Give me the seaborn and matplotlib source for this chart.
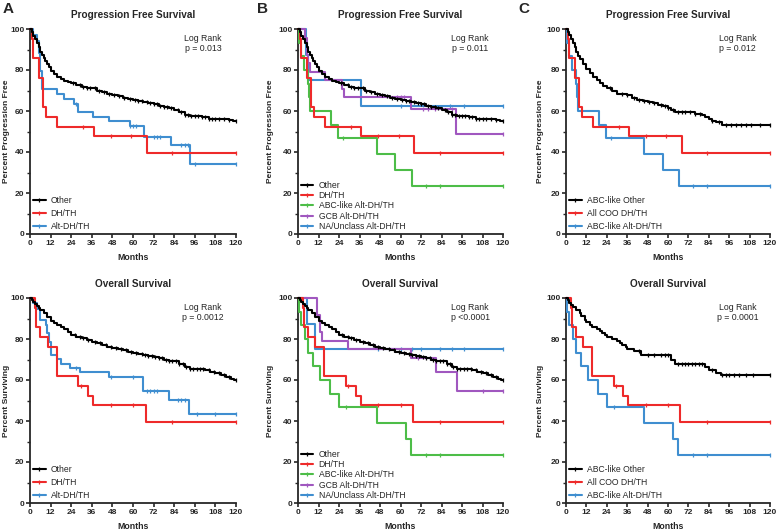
import numpy as np
import pandas as pd
import matplotlib
matplotlib.use("Agg")
import matplotlib.pyplot as plt
from matplotlib.lines import Line2D
from matplotlib.ticker import MultipleLocator
import seaborn as sns

sns.set_theme(style="ticks")
plt.rcParams['font.family'] = ['Liberation Sans', 'DejaVu Sans']

# ---------------- colours ----------------
C_BLACK = "#000000"
C_RED = "#ee2a2a"
C_BLUE = "#3f8ed0"
C_GREEN = "#4dbd48"
C_PURPLE = "#a057bf"

# ---------------- data: PFS ----------------
pfs_other_t = [0, 1, 2, 3, 4, 5, 6, 7, 8, 9, 10, 11, 12, 14, 16, 18, 20, 22, 24, 27, 30, 33, 36, 39, 42, 45,
               48, 51, 54, 57, 60, 63, 66, 69, 72, 75, 78, 81, 84, 87, 90, 93, 96, 100, 104, 108, 116, 118]
pfs_other_s = [100, 98.5, 96.5, 95, 93, 91, 89, 87.5, 86, 84.5, 83, 81.5, 79.5, 78, 76.5, 75.5, 74.5, 74, 73.5,
               72.5, 71.5, 71, 71, 70, 69.5, 68.5, 68, 67.5, 66.5, 66, 65.5, 65, 64.5, 64, 63.5, 62.5, 62, 61.5,
               60.5, 59.5, 58, 57.5, 57.5, 57, 56, 56, 55.5, 55]
pfs_other_c = [25, 29, 31, 33, 35, 38, 40, 43, 46, 49, 52, 55, 58, 61, 63, 65, 68, 70, 72, 74, 76, 78, 80, 82,
               86, 88, 90, 92, 94, 96, 98, 100, 102, 104, 106, 108, 110, 113, 116, 120]

pfs_dh_t = [0, 1.2, 2, 5.5, 7.5, 9.5, 16, 37, 68]
pfs_dh_s = [100, 95.2, 85.7, 76.2, 61.9, 57.1, 52.4, 47.6, 39.3]
pfs_dh_c = [31, 47, 59, 83, 120]

pfs_alt_t = [0, 2, 4, 5, 6, 7, 16, 20, 25.7, 27.8, 36.6, 46, 58, 66.5, 82, 93]
pfs_alt_s = [100, 97.1, 94.1, 88.2, 79.4, 70.6, 68.3, 66.0, 63.5, 59.5, 57.0, 55.0, 52.8, 47.2, 43.3, 34.3]
pfs_alt_c = [27, 58.5, 60, 61.5, 72, 74, 76, 88, 90, 92, 96, 120]

pfs_abcalt_t = [0, 0.5, 2, 3.7, 5.9, 6.4, 6.9, 19.6, 23.5, 46, 57, 66.5]
pfs_abcalt_s = [100, 93.3, 86.7, 80, 73.3, 66.7, 60, 53.3, 46.7, 38.9, 31.1, 23.3]
pfs_abcalt_c = [26.5, 75, 83, 120]

pfs_gcb_t = [0, 4, 5, 6, 7, 16, 25.5, 27, 66, 92.5]
pfs_gcb_s = [100, 95.8, 87.5, 83.3, 79.2, 75, 70.8, 66.7, 61.1, 48.9]
pfs_gcb_c = [58, 60, 62, 73, 76, 80, 90, 120]

pfs_na_t = [0, 4.5, 6, 37]
pfs_na_s = [100, 87.5, 75, 62.5]
pfs_na_c = [60, 89, 97, 120]

pfs_abcother_t = [0, 1, 2, 3, 4, 5, 6, 7, 8, 10, 12, 14, 16, 18, 20, 22, 24, 27, 30, 36, 39, 42, 45, 48, 51,
                  54, 57, 60, 62, 64, 72, 76, 80, 82, 84, 86, 88, 92]
pfs_abcother_s = [100, 98.5, 97, 95, 93, 91, 89, 87, 85.5, 83, 80.5, 78.5, 76.5, 75, 73.5, 72, 71, 70, 68.5,
                  68, 66.5, 65.5, 65, 64.5, 64, 63, 62.5, 61.5, 60.5, 59.5, 59.5, 58.5, 58, 57, 56, 55, 54.5, 53.3]
pfs_abcother_c = [26, 33, 36, 40, 43, 46, 49, 52, 56, 58, 60, 63, 66, 68, 70, 73, 76, 79, 86, 90, 94, 97, 100,
                  103, 106, 109, 114, 120]

# ---------------- data: OS ----------------
os_other_t = [0, 1, 2, 3, 4, 5, 6, 8, 10, 12, 14, 16, 18, 20, 22, 24, 27, 30, 33, 36, 39, 42, 45, 48, 51, 54,
              57, 60, 63, 66, 69, 72, 75, 78, 81, 84, 87, 90, 93, 96, 99, 102, 105, 108, 111, 114, 117, 119]
os_other_s = [100, 99, 98, 97, 96, 95, 94, 92.5, 90.5, 89, 88, 87, 86, 85, 83.5, 82, 81, 80.5, 79.5, 78.5, 78,
              77, 76, 75.5, 75, 74.5, 73.5, 73, 72.5, 72, 71.5, 71, 70.5, 70, 69.5, 69.5, 68, 66.5, 65.5, 65.5,
              65.5, 65, 64, 63.5, 62.5, 61.5, 60.5, 60]
os_other_c = [26, 29, 31, 34, 38, 41, 44, 47, 50, 53, 56, 59, 62, 65, 67, 69, 71, 73, 75, 77, 79, 81, 83, 85,
              87, 89, 91, 93, 95, 97, 99, 101, 104, 107, 110, 113, 116, 120]

os_dh_t = [0, 2.9, 3.7, 5.9, 10.2, 15.5, 28.2, 33.7, 36.6, 67.3]
os_dh_s = [100, 95.2, 85.7, 81.0, 76.2, 61.9, 57.1, 52.4, 47.6, 39.3]
os_dh_c = [29.5, 47, 60, 83, 120]

os_alt_t = [0, 2, 4.3, 5.7, 9.2, 9.8, 11, 12, 15.5, 18.2, 23.5, 29, 46, 66, 81, 92.8]
os_alt_s = [100, 97.4, 94.7, 89.5, 86.8, 83.0, 78.5, 72.4, 70.3, 68.0, 65.9, 63.8, 61.5, 54.5, 50.4, 43.2]
os_alt_c = [27, 47, 60, 68, 70, 72, 74, 86, 88, 90, 97, 108, 120]

os_abcalt_t = [0, 0.7, 1.5, 4, 6, 9, 13, 19, 24, 46, 63, 66]
os_abcalt_s = [100, 93.3, 86.7, 80, 73.3, 66.7, 60, 53.3, 46.7, 38.9, 31.1, 23.3]
os_abcalt_c = [28, 75, 83, 120]

os_gcb_t = [0, 11.3, 12.9, 14.3, 29.5, 66, 80.8, 93]
os_gcb_s = [100, 91.7, 83.3, 79.2, 75, 70.5, 63.9, 54.8]
os_gcb_c = [70, 108, 120]

os_na_t = [0, 5, 10]
os_na_s = [100, 87.5, 75]
os_na_c = [47, 60, 67, 72, 83, 90, 97, 120]

os_abcother_t = [0, 1, 2, 3, 4, 6, 8, 9, 11, 12, 14, 15, 18, 20, 21, 23, 24, 27, 30, 32, 33, 35, 36, 40, 44,
                 62, 64, 82, 84, 88, 91]
os_abcother_s = [100, 99, 97.5, 96.5, 95.5, 94, 92.5, 91, 89.5, 88.5, 87, 86, 85, 84, 83, 82, 81, 80, 79, 78,
                 77, 76, 75, 74, 72, 70, 68, 66.5, 65, 63.5, 62.5]
os_abcother_c = [43, 48, 52, 56, 58, 60, 66, 68, 70, 72, 74, 76, 78, 80, 86, 92, 94, 96, 99, 102, 106, 110, 120]

# ---------------- panel definitions ----------------
panel_letters = ["A", "B", "C"]
pfs_pvalues = ["p = 0.013", "p = 0.011", "p = 0.012"]
os_pvalues = ["p = 0.0012", "p <0.0001", "p = 0.0001"]
x_ticks = list(range(0, 121, 12))
y_ticks = list(range(0, 101, 20))

labels_A = ["Other", "DH/TH", "Alt-DH/TH"]
labels_B = ["Other", "DH/TH", "ABC-like Alt-DH/TH", "GCB Alt-DH/TH", "NA/Unclass Alt-DH/TH"]
labels_C = ["ABC-like Other", "All COO DH/TH", "ABC-like Alt-DH/TH"]

panels_pfs = [
    [(pfs_other_t, pfs_other_s, pfs_other_c, C_BLACK), (pfs_dh_t, pfs_dh_s, pfs_dh_c, C_RED),
     (pfs_alt_t, pfs_alt_s, pfs_alt_c, C_BLUE)],
    [(pfs_other_t, pfs_other_s, pfs_other_c, C_BLACK), (pfs_dh_t, pfs_dh_s, pfs_dh_c, C_RED),
     (pfs_abcalt_t, pfs_abcalt_s, pfs_abcalt_c, C_GREEN), (pfs_gcb_t, pfs_gcb_s, pfs_gcb_c, C_PURPLE),
     (pfs_na_t, pfs_na_s, pfs_na_c, C_BLUE)],
    [(pfs_abcother_t, pfs_abcother_s, pfs_abcother_c, C_BLACK), (pfs_dh_t, pfs_dh_s, pfs_dh_c, C_RED),
     (pfs_abcalt_t, pfs_abcalt_s, pfs_abcalt_c, C_BLUE)],
]
panels_os = [
    [(os_other_t, os_other_s, os_other_c, C_BLACK), (os_dh_t, os_dh_s, os_dh_c, C_RED),
     (os_alt_t, os_alt_s, os_alt_c, C_BLUE)],
    [(os_other_t, os_other_s, os_other_c, C_BLACK), (os_dh_t, os_dh_s, os_dh_c, C_RED),
     (os_abcalt_t, os_abcalt_s, os_abcalt_c, C_GREEN), (os_gcb_t, os_gcb_s, os_gcb_c, C_PURPLE),
     (os_na_t, os_na_s, os_na_c, C_BLUE)],
    [(os_abcother_t, os_abcother_s, os_abcother_c, C_BLACK), (os_dh_t, os_dh_s, os_dh_c, C_RED),
     (os_abcalt_t, os_abcalt_s, os_abcalt_c, C_BLUE)],
]
panel_labels = [labels_A, labels_B, labels_C]

# ---------------- figure ----------------
W, H = 778, 530
fig = plt.figure(figsize=(W / 100, H / 100), dpi=100)

lefts_px = [30, 298, 566]
widths_px = [206, 205, 204]
top_rows = [(29, 234), (298, 503)]
ylabel_x = [-0.095, -0.115, -0.108]


def px_axes(left, width, top, bottom):
    return fig.add_axes([left / W, 1 - bottom / H, width / W, (bottom - top) / H])


def draw_curve(ax, t, s, c, color, z):
    t = list(t) + [max(c)]
    s = list(s) + [s[-1]]
    df = pd.DataFrame({"t": t, "s": s})
    sns.lineplot(data=df, x="t", y="s", ax=ax, color=color, lw=1.5, drawstyle="steps-post",
                 estimator=None, sort=False, zorder=z, clip_on=False)
    ta = np.asarray(t)
    sa = np.asarray(s)
    idx = np.searchsorted(ta, np.asarray(c), side="right") - 1
    ax.plot(c, sa[idx], ls="none", marker="|", ms=3.5, mew=0.9, color=color, zorder=z, clip_on=False)


def style_axes(ax, col, title, ylabel, ptext, labels, curves, spacing):
    ax.set_xlim(0, 120)
    ax.set_ylim(0, 100)
    ax.set_xticks(x_ticks)
    ax.set_yticks(y_ticks)
    ax.yaxis.set_minor_locator(MultipleLocator(10))
    sns.despine(ax=ax)
    for sp in ("left", "bottom"):
        ax.spines[sp].set_linewidth(1.3)
    ax.tick_params(axis="both", which="major", length=3, width=1.2, labelsize=6, pad=1)
    ax.tick_params(axis="y", which="minor", length=2, width=1.0)
    for lab in ax.get_xticklabels() + ax.get_yticklabels():
        lab.set_fontweight("bold")
    ax.set_title(title, fontsize=7.2, fontweight="bold", pad=8)
    ax.set_xlabel("Months", fontsize=6.3, fontweight="bold")
    ax.xaxis.set_label_coords(0.5, -0.095)
    ax.xaxis.label.set_va("top")
    ax.set_ylabel(ylabel, fontsize=6, fontweight="bold")
    ax.yaxis.set_label_coords(ylabel_x[col], 0.5)
    ax.text(0.84, 0.975, "Log Rank\n" + ptext, transform=ax.transAxes, ha="center", va="top",
            fontsize=6.3, linespacing=1.15)
    handles = [Line2D([0, 1], [0, 0], color=cv[3], lw=1.5, marker="|", ms=3.5, mew=0.9) for cv in curves]
    ax.legend(handles, labels, loc="lower left", frameon=False, fontsize=6.2, numpoints=1,
              handlelength=1.4, handletextpad=0.6, labelspacing=spacing, borderaxespad=0.1,
              borderpad=0.3)


for row, (panels, title, ylabel, pvals) in enumerate([
        (panels_pfs, "Progression Free Survival", "Percent Progression Free", pfs_pvalues),
        (panels_os, "Overall Survival", "Percent Surviving", os_pvalues)]):
    top, bottom = top_rows[row]
    for col in range(3):
        ax = px_axes(lefts_px[col], widths_px[col], top, bottom)
        curves = panels[col]
        nz = len(curves)
        for k, (t, s, c, color) in enumerate(curves):
            draw_curve(ax, t, s, c, color, 3 + (nz - k))
        spacing = 0.12 if col == 1 else 0.45
        style_axes(ax, col, title, ylabel, pvals[col], panel_labels[col], curves, spacing)

for letter, xp in zip(panel_letters, [3, 257, 518]):
    fig.text(xp / W, 1 - 2 / H, letter, fontsize=11, fontweight="bold", ha="left", va="top")

fig.savefig("out.png", dpi=100)
